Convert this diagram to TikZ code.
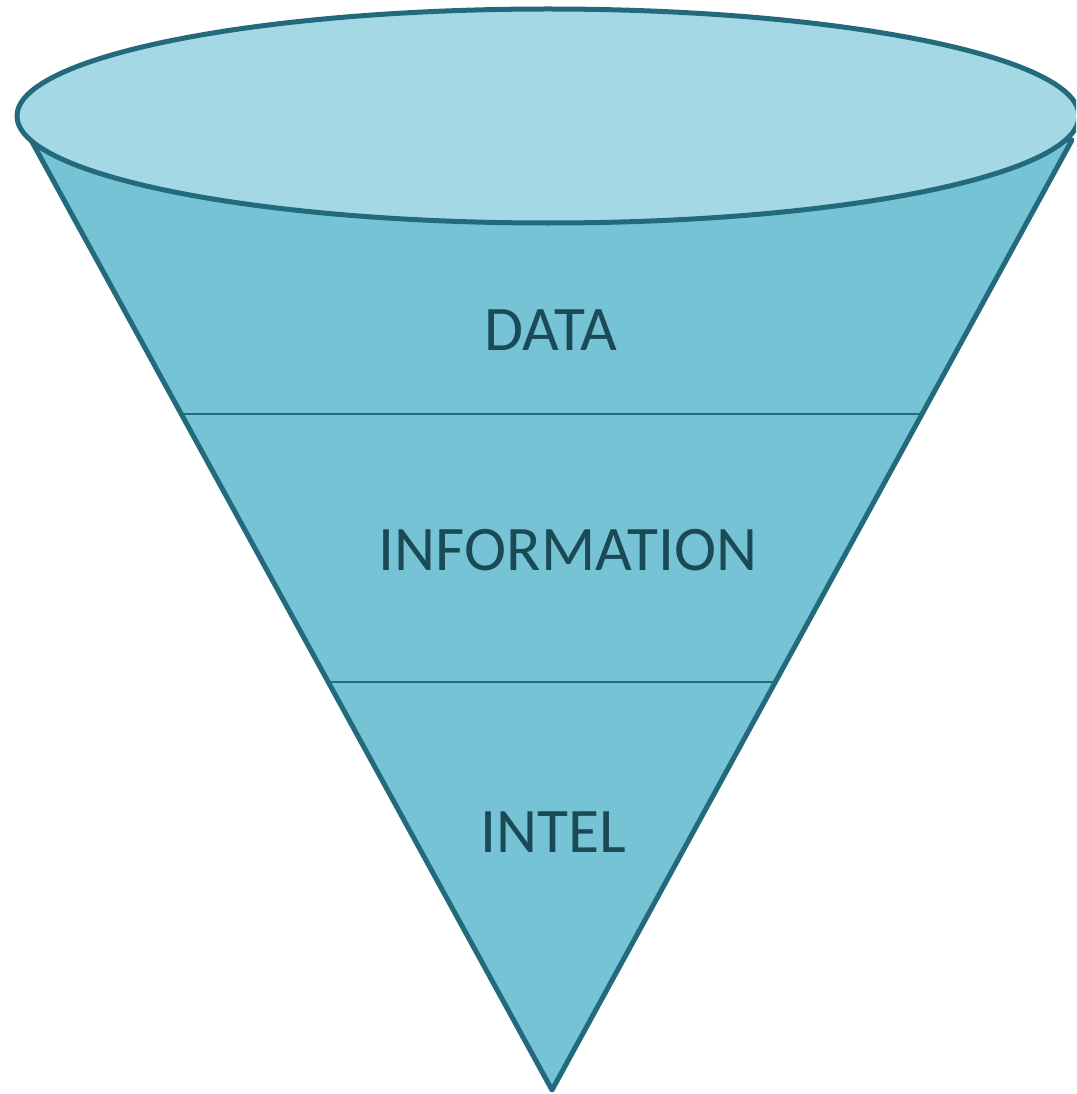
\documentclass[tikz,border=0pt]{standalone}
\usepackage{fontspec}
\setmainfont{Carlito}
\usetikzlibrary{calc}
\definecolor{topfill}{HTML}{A3D8E4}
\definecolor{bodyfill}{HTML}{77C3D6}
\definecolor{edge}{HTML}{236B7C}
\definecolor{txt}{HTML}{1A4A56}
\tikzset{
  outline/.style={draw=edge, line width=5pt, line join=round},
  divider/.style={draw=edge, line width=2pt},
  label/.style={text=txt, font=\fontsize{63.5}{70}\selectfont, inner sep=0pt, anchor=center}
}
\begin{document}
\begin{tikzpicture}[x=1pt,y=-1pt]
\useasboundingbox (0,0) rectangle (1076,1094);
\clip (0,0) rectangle (1076,1094);
\coordinate (tl) at (31,140);
\coordinate (tr) at (1072,140);
\coordinate (apex) at (552,1090);
\filldraw[outline, fill=bodyfill] (tl) -- (apex) -- (tr) -- cycle;
\path (tl) -- (apex) coordinate[pos=0.2884] (l1) coordinate[pos=0.5705] (l2);
\path (tr) -- (apex) coordinate[pos=0.2884] (r1) coordinate[pos=0.5705] (r2);
\draw[divider] (l1) -- (r1);
\draw[divider] (l2) -- (r2);
\filldraw[outline, fill=topfill] (548,116) ellipse [x radius=531, y radius=107];
\node[label] (data) at (551,330) {DATA};
\node[label] (info) at (568,550) {INFORMATION};
\node[label] (intel) at (553,832) {INTEL};
\end{tikzpicture}
\end{document}
